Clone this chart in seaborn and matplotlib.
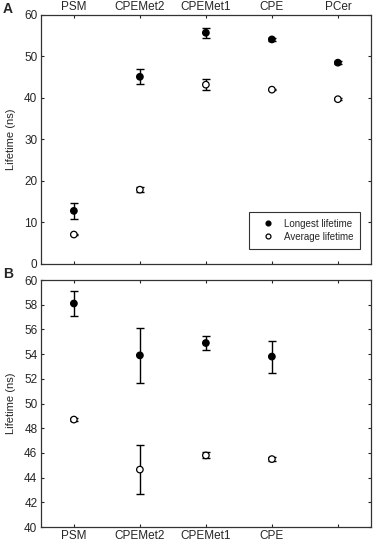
import numpy as np
import pandas as pd
import matplotlib
matplotlib.use("Agg")
import matplotlib.pyplot as plt
import seaborn as sns

# panel A
cats_a = ["PSM", "CPEMet2", "CPEMet1", "CPE", "PCer"]
long_a = [12.8, 45.1, 55.7, 54.1, 48.5]
long_a_err = [2.0, 1.8, 1.2, 0.3, 0.3]
avg_a = [7.1, 17.9, 43.2, 42.0, 39.7]
avg_a_err = [0.2, 0.6, 1.3, 0.2, 0.3]

# panel B
cats_b = ["PSM", "CPEMet2", "CPEMet1", "CPE"]
long_b = [58.1, 53.9, 54.9, 53.8]
long_b_err = [1.0, 2.2, 0.6, 1.3]
avg_b = [48.7, 44.65, 45.8, 45.5]
avg_b_err = [0.1, 2.0, 0.25, 0.15]

sns.set_style("ticks")
plt.rcParams["font.family"] = ["Liberation Sans", "DejaVu Sans"]
plt.rcParams["xtick.direction"] = "in"
plt.rcParams["ytick.direction"] = "in"

fig = plt.figure(figsize=(3.75, 5.45), dpi=100)
ax_a = fig.add_axes([0.109, 0.5156, 0.88, 0.457])
ax_b = fig.add_axes([0.109, 0.033, 0.88, 0.4532])


def draw(ax, cats, lv, le, av, ae):
    df = pd.DataFrame({
        "x": list(range(1, len(cats) + 1)) * 2,
        "y": lv + av,
        "err": le + ae,
        "kind": ["Longest lifetime"] * len(cats) + ["Average lifetime"] * len(cats),
    })
    ax.errorbar(df["x"], df["y"], yerr=df["err"], fmt="none", ecolor="black",
                elinewidth=1.0, capsize=3, capthick=1.0, zorder=2)
    sns.scatterplot(data=df, x="x", y="y", hue="kind", style="kind",
                    palette={"Longest lifetime": "black", "Average lifetime": "white"},
                    markers={"Longest lifetime": "o", "Average lifetime": "o"},
                    edgecolor="black", linewidth=0.9, s=22, ax=ax, zorder=3)
    ax.set_xlim(0.5, 5.5)
    ax.set_xlabel("")
    ax.set_ylabel("Lifetime (ns)", fontsize=8, labelpad=6)
    ax.tick_params(axis="both", which="both", top=True, right=True,
                   labelsize=8.5, length=2.5, width=0.8, pad=2.5)
    for s in ax.spines.values():
        s.set_linewidth(0.9)
        s.set_color("#333333")


draw(ax_a, cats_a, long_a, long_a_err, avg_a, avg_a_err)
ax_a.set_ylim(0, 60)
ax_a.set_yticks(np.arange(0, 61, 10))
ax_a.set_xticks(range(1, 6))
ax_a.set_xticklabels(cats_a)
ax_a.tick_params(axis="x", labeltop=True, labelbottom=False, pad=1.5)
h, l = ax_a.get_legend_handles_labels()
leg = ax_a.legend(h, l, loc="lower right", bbox_to_anchor=(0.967, 0.062),
                  fontsize=7, frameon=True, fancybox=False, edgecolor="black",
                  borderpad=0.7, handlelength=2.6, handletextpad=0.3,
                  labelspacing=0.3, markerscale=0.75, borderaxespad=0)
leg.get_frame().set_linewidth(0.8)

draw(ax_b, cats_b, long_b, long_b_err, avg_b, avg_b_err)
ax_b.get_legend().remove()
ax_b.set_ylim(40, 60)
ax_b.set_yticks(np.arange(40, 61, 2))
ax_b.set_xticks(range(1, 6))
ax_b.set_xticklabels(cats_b + [""])

fig.text(0.008, 0.9835, "A", fontsize=10, fontweight="bold", va="center")
fig.text(0.008, 0.497, "B", fontsize=10, fontweight="bold", va="center")

fig.savefig("out.png", dpi=100)
